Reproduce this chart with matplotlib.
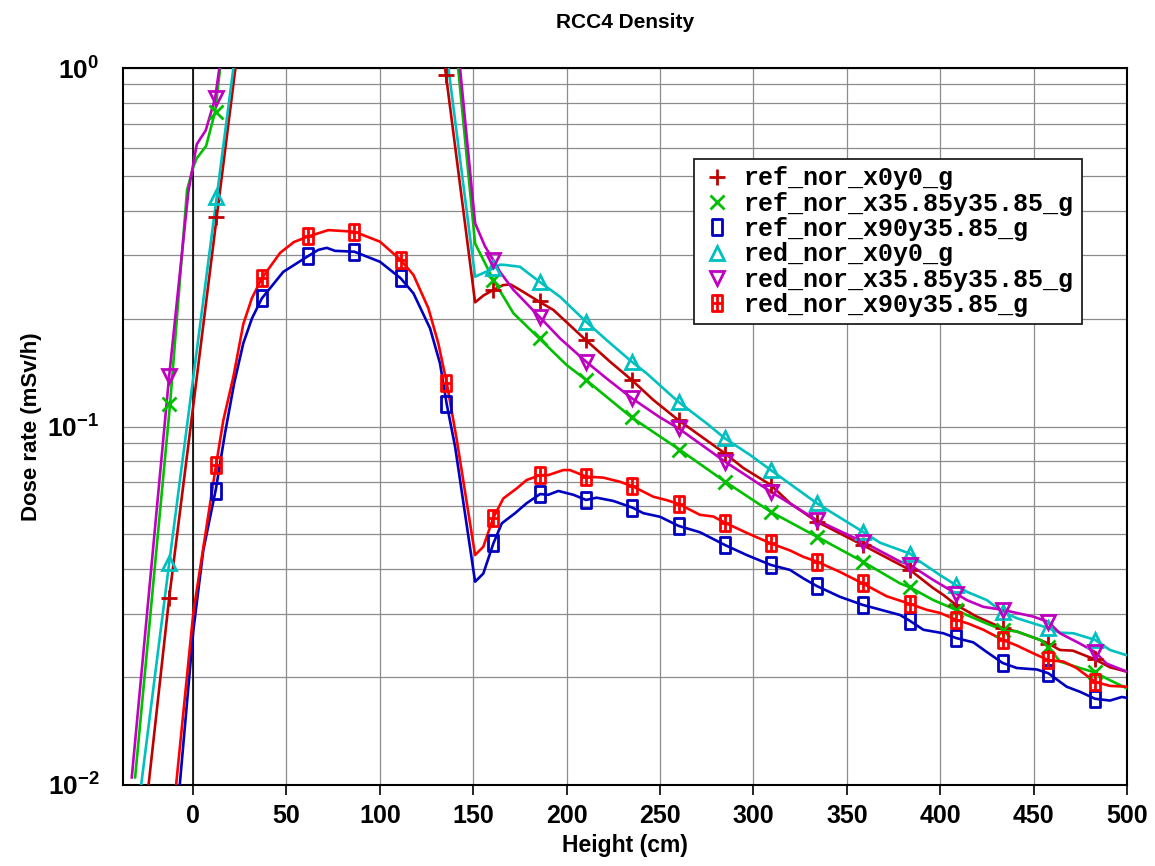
import numpy as np
import matplotlib
matplotlib.use('Agg')
import matplotlib.pyplot as plt
from matplotlib.path import Path
from matplotlib import font_manager as fm

nan = np.nan

plt.rcParams['font.family'] = ['Liberation Sans', 'DejaVu Sans']
plt.rcParams['mathtext.fontset'] = 'custom'
plt.rcParams['mathtext.bf'] = 'Liberation Sans:bold'
plt.rcParams['mathtext.rm'] = 'Liberation Sans:bold'

# heights (cm) where the symbols are drawn, shared by every curve
marker_x = [-12.8, 12.3, 36.8, 61.7, 86.4, 111.2, 135.5, 160.8, 185.6, 210.4, 235.0,
            259.9, 284.8, 309.3, 333.9, 358.5, 383.7, 408.5, 433.4, 457.9, 482.9]

# ref_nor_x0y0_g
ref_x0_x = [-24, -12.8, 0, 12.7, 23.0, 24.0, nan, 134.0, 151, 155.5, 160.8, 166, 170, 175, 185.4,
            192.9, 210.4, 223.2, 234.8, 246.4, 259.8, 284.8, 294.6, 309.3, 319.6, 333.9,
            358.5, 383.8, 396.3, 401.7, 408.5, 419.5, 433.4, 441, 453.4, 457.9, 464.1, 471,
            482.9, 490.9, 500]
ref_x0_y = [0.0098, 0.0332, 0.113, 0.385, 1.03, 1.12, nan, 1.09, 0.222, 0.232, 0.2405, 0.248, 0.249,
            0.2405, 0.2228, 0.2114, 0.174, 0.1517, 0.1349, 0.1186, 0.1042, 0.0841, 0.0766,
            0.0687, 0.0611, 0.0543, 0.0467, 0.0398, 0.0354, 0.0339, 0.0318, 0.0295, 0.0274,
            0.0268, 0.0254, 0.0248, 0.0238, 0.0237, 0.0224, 0.0213, 0.0207]
ref_x0_m = [0.0332, 0.385, nan, nan, nan, nan, 0.955, 0.2405, 0.2235, 0.174, 0.1349, 0.1042,
            0.0841, 0.0687, 0.0543, 0.0467, 0.0398, 0.0318, 0.0274, 0.0248, 0.0224]

# ref_nor_x35.85y35.85_g
ref_x35_x = [-31, -12.3, -3.2, 0.2, 2.0, 7.0, 11.8, 14.5, 15.5, nan, 141, 151, 160.8, 171.5, 185.4,
             200, 210.4, 219.7, 234.8, 260.7, 284.8, 309.3, 333.9, 358.5, 378.5, 383.8, 396.3,
             408.5, 414.2, 424.9, 433.4, 441, 453.4, 457.9, 464.1, 474.8, 482.9, 490.9, 500]
ref_x35_y = [0.0105, 0.1155, 0.457, 0.531, 0.56, 0.606, 0.755, 1.0, 1.12, nan, 1.12, 0.324,
             0.2564, 0.207, 0.176, 0.1484, 0.1349, 0.123, 0.106, 0.086, 0.0702, 0.0578,
             0.0493, 0.042, 0.0365, 0.0356, 0.0328, 0.0308, 0.0298, 0.0282, 0.0271, 0.0268,
             0.0254, 0.0243, 0.0221, 0.0212, 0.0206, 0.0196, 0.0186]
ref_x35_m = [0.1155, 0.755, nan, nan, nan, nan, nan, 0.2564, 0.176, 0.1349, 0.106, 0.086,
             0.0702, 0.0578, 0.0493, 0.042, 0.0356, 0.0308, 0.0271, 0.0243, 0.0206]

# ref_nor_x90y35.85_g
ref_x90_x = [-7.5, 0.2, 5.5, 12.3, 17, 22, 26.9, 31.5, 36.8, 48.3, 61.7, 67.1, 71.6, 76, 86.4,
             100.1, 111.2, 118, 126.9, 132.2, 135.8, 140.3, 151, 155.4, 160.8, 165.3, 172.4,
             178.6, 185.8, 190.2, 195.6, 203.6, 210.4, 216.1, 225, 235.2, 241.1, 250, 260,
             271.4, 284.8, 296.4, 309.3, 319.6, 326.7, 333.9, 346.3, 358.5, 378.5, 383.8, 391,
             401.7, 408.5, 417.7, 424.9, 433.4, 441, 451.7, 457.9, 467.7, 474.8, 482.9, 490.9,
             497.2, 500]
ref_x90_y = [0.0095, 0.0271, 0.0452, 0.0672, 0.095, 0.132, 0.1706, 0.200, 0.2276, 0.270, 0.299,
             0.311, 0.315, 0.309, 0.3073, 0.288, 0.259, 0.2352, 0.1877, 0.15, 0.1155, 0.0878,
             0.0369, 0.0389, 0.0472, 0.0537, 0.0573, 0.0611, 0.0648, 0.0645, 0.0661, 0.0645,
             0.0624, 0.0633, 0.062, 0.0594, 0.0573, 0.056, 0.0528, 0.0507, 0.0467, 0.0438,
             0.0411, 0.0398, 0.0377, 0.0359, 0.0335, 0.0318, 0.0298, 0.0287, 0.0271, 0.0265,
             0.0257, 0.025, 0.0235, 0.0219, 0.0212, 0.021, 0.0205, 0.0188, 0.0182, 0.0174,
             0.0172, 0.0176, 0.0175]
ref_x90_m = [nan, 0.066, 0.2276, 0.299, 0.3073, 0.259, 0.1155, 0.0472, 0.0648, 0.0624, 0.0594,
             0.0528, 0.0467, 0.0411, 0.0359, 0.0318, 0.0287, 0.0257, 0.0219, 0.0205, 0.0174]

# red_nor_x0y0_g
red_x0_x = [-28, -12.8, 12.7, 21.6, 22.5, nan, 135.5, 151, 160.8, 164.3, 166.1, 175, 185.4, 196.5,
            210.4, 221.5, 234.8, 242.9, 259.8, 275, 284.8, 298.2, 309.3, 333.9, 358.5, 367.8,
            383.8, 389.2, 399.9, 408.5, 414.2, 424.9, 433.4, 441, 457.9, 464.1, 471.3, 482.9,
            490.9, 500]
red_x0_y = [0.0098, 0.0415, 0.438, 1.0, 1.12, nan, 1.12, 0.2617, 0.276, 0.2826, 0.2826, 0.279,
            0.2535, 0.230, 0.196, 0.174, 0.1517, 0.1406, 0.1172, 0.102, 0.0926, 0.0833,
            0.0756, 0.0611, 0.0509, 0.0474, 0.0442, 0.042, 0.0385, 0.0361, 0.0346, 0.0328,
            0.0304, 0.0292, 0.0274, 0.0266, 0.0265, 0.0254, 0.0238, 0.0230]
red_x0_m = [0.0415, 0.438, nan, nan, nan, nan, nan, 0.276, 0.2535, 0.196, 0.1517, 0.1172,
            0.0926, 0.0756, 0.0611, 0.0509, 0.0442, 0.0361, 0.0304, 0.0274, 0.0254]

# red_nor_x35.85y35.85_g
red_x35_x = [-32.8, -12.8, -2.5, 2.0, 6.8, 11.8, 14.1, 15.0, nan, 142, 151, 156.3, 160.8, 164.3,
             171.5, 185.4, 196.5, 210.4, 221.5, 234.8, 250, 259.8, 284.8, 309.3, 333.9, 358.5,
             378.5, 383.8, 396.3, 408.5, 414.2, 423.1, 433.4, 449.8, 457.9, 464.1, 474.8,
             482.9, 489.1, 500]
red_x35_y = [0.0105, 0.138, 0.452, 0.613, 0.67, 0.823, 1.0, 1.12, nan, 1.12, 0.369, 0.318, 0.291,
             0.270, 0.2405, 0.2024, 0.176, 0.1517, 0.136, 0.12, 0.106, 0.0989, 0.0798, 0.0658,
             0.0548, 0.0477, 0.042, 0.0411, 0.0373, 0.0342, 0.0328, 0.0314, 0.0308, 0.0295,
             0.0285, 0.0265, 0.0248, 0.0235, 0.0218, 0.0207]
red_x35_m = [0.138, 0.823, nan, nan, nan, nan, nan, 0.291, 0.2024, 0.1517, 0.12, 0.0989,
             0.0798, 0.0658, 0.0548, 0.0477, 0.0411, 0.0342, 0.0308, 0.0285, 0.0235]

# red_nor_x90y35.85_g
red_x90_x = [-9.5, 0.2, 12.3, 16.2, 21.6, 26.9, 31.5, 36.8, 46.6, 54, 61.7, 72.4, 86.4, 100.1,
             111.2, 118, 126, 131.3, 135.8, 141.2, 151, 155.4, 160.8, 166.1, 173.3, 178.6,
             185.8, 190.2, 198.2, 201.8, 210.4, 219.7, 228.6, 235.2, 246.4, 253.6, 260, 271.4,
             278.5, 284.8, 296.4, 309.3, 319.6, 326.7, 333.9, 346.3, 358.5, 371.4, 383.8,
             392.8, 399.9, 408.5, 415, 423.1, 433.4, 441, 449.8, 457.9, 465.9, 473, 482.9,
             490.9, 500]
red_x90_y = [0.0095, 0.0304, 0.078, 0.104, 0.1377, 0.193, 0.228, 0.259, 0.305, 0.327, 0.339,
             0.353, 0.3494, 0.3277, 0.2913, 0.2647, 0.2136, 0.1706, 0.1325, 0.0917, 0.0438,
             0.0462, 0.0557, 0.063, 0.0672, 0.0709, 0.0732, 0.0732, 0.0756, 0.0756, 0.0725,
             0.072, 0.0701, 0.0682, 0.0637, 0.0623, 0.0608, 0.0567, 0.0561, 0.0539, 0.0505,
             0.0472, 0.0451, 0.0433, 0.042, 0.0393, 0.0365, 0.0336, 0.032, 0.0308, 0.0302,
             0.0289, 0.0282, 0.0271, 0.0254, 0.0245, 0.0233, 0.0223, 0.0221, 0.0212, 0.0194,
             0.0189, 0.0188]
red_x90_m = [nan, 0.078, 0.259, 0.339, 0.3494, 0.2913, 0.1325, 0.0557, 0.0732, 0.0725, 0.0682,
             0.0608, 0.0539, 0.0472, 0.042, 0.0365, 0.032, 0.0289, 0.0254, 0.0223, 0.0194]

labels = ['ref_nor_x0y0_g', 'ref_nor_x35.85y35.85_g', 'ref_nor_x90y35.85_g',
          'red_nor_x0y0_g', 'red_nor_x35.85y35.85_g', 'red_nor_x90y35.85_g']
colors = ['#c00000', '#00c000', '#0000c0', '#00c0c0', '#c000c0', '#ff0000']

# open tall box, and tall box with a cross inside
M, L, C = Path.MOVETO, Path.LINETO, Path.CLOSEPOLY
box = Path([(-0.3, -0.5), (0.3, -0.5), (0.3, 0.5), (-0.3, 0.5), (-0.3, -0.5)], [M, L, L, L, C])
box_cross = Path([(-0.3, -0.5), (0.3, -0.5), (0.3, 0.5), (-0.3, 0.5), (-0.3, -0.5),
                  (0, -0.5), (0, 0.5), (-0.3, 0), (0.3, 0)],
                 [M, L, L, L, C, M, L, M, L])
markers = ['+', 'x', box, '^', 'v', box_cross]
msizes = [11, 10, 11, 10, 10, 11]

xs = [ref_x0_x, ref_x35_x, ref_x90_x, red_x0_x, red_x35_x, red_x90_x]
ys = [ref_x0_y, ref_x35_y, ref_x90_y, red_x0_y, red_x35_y, red_x90_y]
ms = [ref_x0_m, ref_x35_m, ref_x90_m, red_x0_m, red_x35_m, red_x90_m]

fig = plt.figure(figsize=(11.55, 8.66), dpi=100)
ax = fig.add_axes([123 / 1155, 1 - 785 / 866, 1004 / 1155, 717 / 866])

for i in range(6):
    ax.plot(xs[i], ys[i], color=colors[i], lw=1.9, zorder=3)
    ax.plot(marker_x, ms[i], linestyle='none', marker=markers[i], ms=msizes[i],
            mfc='none', mec=colors[i], mew=2.0, label=labels[i], zorder=4)

ax.set_yscale('log')
ax.set_xlim(-37.5, 500)
ax.set_ylim(0.01, 1)

ax.set_xticks(np.arange(0, 501, 50))
ax.set_yticks([0.01, 0.1, 1])
ax.set_yticklabels([r'$\mathbf{10^{-2}}$', r'$\mathbf{10^{-1}}$', r'$\mathbf{10^{0}}$'])
ax.yaxis.set_minor_formatter(plt.NullFormatter())

ax.grid(True, which='both', axis='y', color='#8c8c8c', lw=0.9)
ax.grid(True, which='major', axis='x', color='#8c8c8c', lw=0.9)
ax.axvline(0, color='black', lw=1.2, zorder=2)

ax.tick_params(axis='x', length=7, width=1.2, pad=7, labelsize=18)
ax.tick_params(axis='y', which='both', length=0, pad=17, labelsize=19)
for lab in ax.get_xticklabels():
    lab.set_fontweight('bold')
for sp in ax.spines.values():
    sp.set_linewidth(1.5)

ax.set_xlabel('Height (cm)', fontsize=16.5, fontweight='bold', labelpad=4)
ax.set_ylabel('Dose rate (mSv/h)', fontsize=16, fontweight='bold', labelpad=4)
fig.text(625 / 1155, 1 - 22 / 866, 'RCC4 Density', ha='center', va='center',
         fontsize=15, fontweight='bold')

leg = ax.legend(loc='upper left', bbox_to_anchor=((694 - 123) / 1004, (785 - 159) / 717),
                borderaxespad=0, fancybox=False, framealpha=1, edgecolor='#202020',
                prop=fm.FontProperties(family='Liberation Mono', weight='bold', size=18),
                handlelength=1.2, handletextpad=0.5, labelspacing=0.05, borderpad=0.3)
leg.get_frame().set_linewidth(1.3)

fig.savefig('out.png', dpi=100)
